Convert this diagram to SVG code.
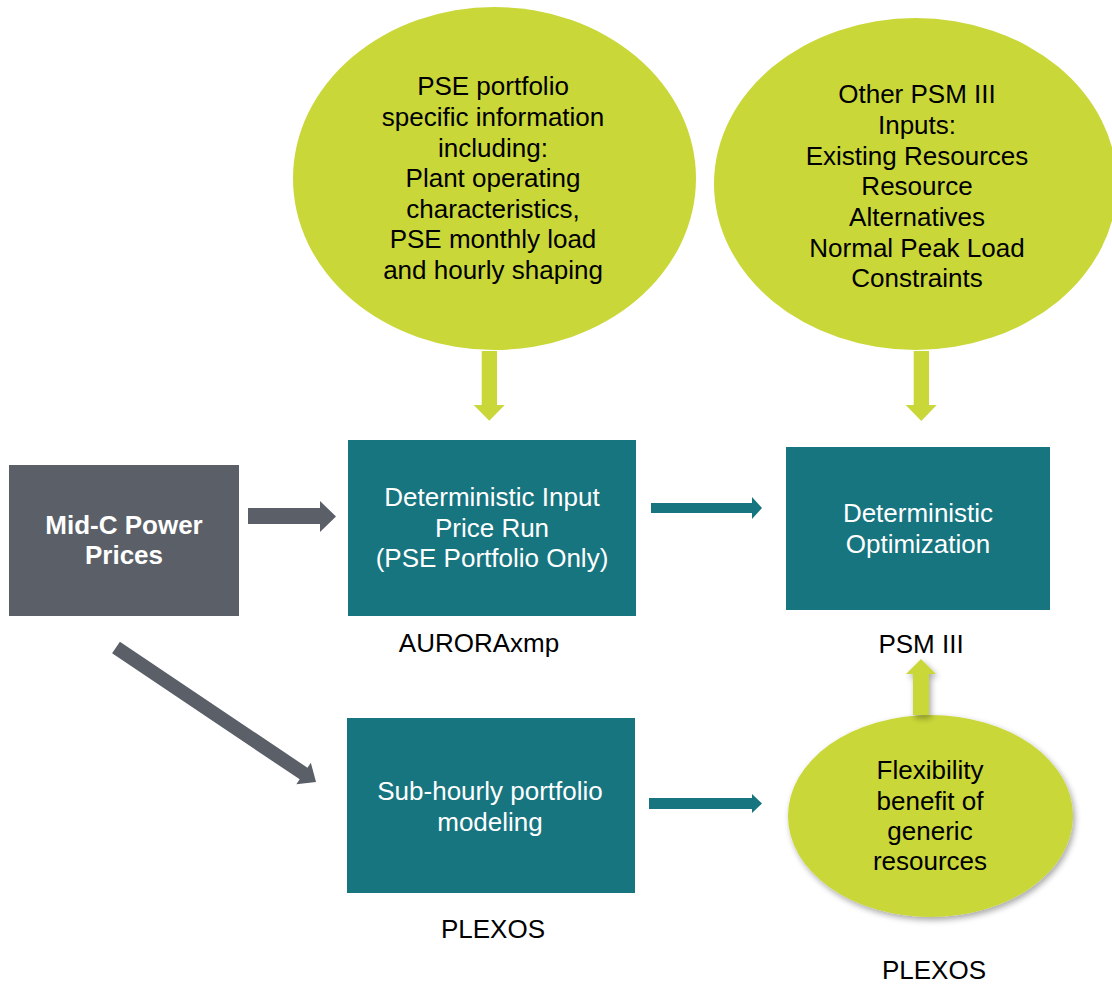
<svg xmlns="http://www.w3.org/2000/svg" width="1112" height="985" viewBox="0 0 1112 985">
<style>
.t{font-family:"Liberation Sans",Arial,sans-serif;font-size:26px;text-anchor:middle;fill:#000}
.w{fill:#fff}
.b{font-weight:bold}
.green{fill:#c9d739}
.teal{fill:#177580}
.gray{fill:#5a5f68}
</style>
<defs>
<filter id="sh" x="-10%" y="-10%" width="130%" height="130%">
<feGaussianBlur in="SourceAlpha" stdDeviation="3"/>
<feOffset dx="2" dy="3" result="o"/>
<feComponentTransfer><feFuncA type="linear" slope="0.35"/></feComponentTransfer>
<feMerge><feMergeNode/><feMergeNode in="SourceGraphic"/></feMerge>
</filter>
</defs>
<rect width="1112" height="985" fill="#fff"/>

<g id="node-pse-info">
<ellipse class="green" cx="494.5" cy="178.5" rx="201.5" ry="171.5"/>
<text class="t" x="493" y="95">PSE portfolio</text>
<text class="t" x="493" y="126">specific information</text>
<text class="t" x="493" y="156.7">including:</text>
<text class="t" x="493" y="187">Plant operating</text>
<text class="t" x="493" y="217.5">characteristics,</text>
<text class="t" x="493" y="248">PSE monthly load</text>
<text class="t" x="493" y="279">and hourly shaping</text>
</g>

<g id="node-other-inputs">
<ellipse class="green" cx="915.5" cy="184" rx="201.5" ry="166"/>
<text class="t" x="917" y="103.3">Other PSM III</text>
<text class="t" x="917" y="134">Inputs:</text>
<text class="t" x="917" y="164.7">Existing Resources</text>
<text class="t" x="917" y="195.3">Resource</text>
<text class="t" x="917" y="226">Alternatives</text>
<text class="t" x="917" y="256.7">Normal Peak Load</text>
<text class="t" x="917" y="287.3">Constraints</text>
</g>

<g id="node-midc">
<rect class="gray" x="9" y="465" width="230" height="151"/>
<text class="t w b" x="124" y="533.5">Mid-C Power</text>
<text class="t w b" x="124" y="564">Prices</text>
</g>

<g id="node-aurora">
<rect class="teal" x="348" y="440" width="288" height="176"/>
<text class="t w" x="492" y="506">Deterministic Input</text>
<text class="t w" x="492" y="536.5">Price Run</text>
<text class="t w" x="492" y="567">(PSE Portfolio Only)</text>
<text class="t" x="479" y="652">AURORAxmp</text>
</g>

<g id="node-psm">
<rect class="teal" x="786" y="447" width="264" height="163"/>
<text class="t w" x="918" y="522">Deterministic</text>
<text class="t w" x="918" y="552.5">Optimization</text>
<text class="t" x="921" y="653">PSM III</text>
</g>

<g id="node-plexos">
<rect class="teal" x="347" y="718" width="288" height="175"/>
<text class="t w" x="490" y="800">Sub-hourly portfolio</text>
<text class="t w" x="490" y="830.5">modeling</text>
<text class="t" x="493" y="937.5">PLEXOS</text>
</g>

<g id="node-flex">
<ellipse class="green" cx="930.5" cy="816" rx="142.5" ry="101" filter="url(#sh)"/>
<text class="t" x="930" y="779">Flexibility</text>
<text class="t" x="930" y="809.5">benefit of</text>
<text class="t" x="930" y="839.5">generic</text>
<text class="t" x="930" y="870">resources</text>
<text class="t" x="934" y="979">PLEXOS</text>
</g>

<g id="connectors">
<path class="green" d="M481.7,351 H497 V405 H504.7 L489.3,420.7 L473.7,405 H481.7 Z"/>
<path class="green" d="M913.7,351 H929 V405 H936.7 L921.3,421 L905.7,405 H913.7 Z"/>
<path class="green" d="M913,715 V674 H906 L921,659 L936,674 H929 V715 Z" filter="url(#sh)"/>
<path class="gray" d="M248,508 H320 V501 L336,516.5 L320,532 V524 H248 Z"/>
<path class="teal" d="M651,503 H752 V497 L762,508 L752,519 V513 H651 Z"/>
<path class="teal" d="M649,798 H752 V794 L762,803.5 L752,813 V809 H649 Z"/>
<path class="gray" transform="translate(116,647.5) rotate(33.9)" d="M0,-7 H226 V-13 L241,0 L226,13 V7 H0 Z"/>
</g>
</svg>
